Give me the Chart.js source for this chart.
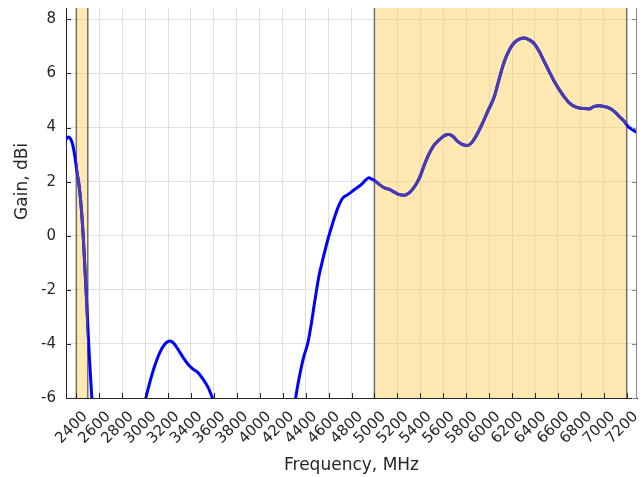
<!DOCTYPE html>
<html>
<head>
<meta charset="utf-8">
<script src="https://cdn.jsdelivr.net/npm/chart.js@4/dist/chart.umd.min.js"></script>
<style>
html,body{margin:0;padding:0;background:#ffffff;}
#wrap{width:644px;height:477px;}
</style>
</head>
<body>
<div id="wrap"><canvas id="c" width="644" height="477"></canvas></div>
<script>
// ---- data ----
const seg1Freq = [2300, 2320, 2335, 2350, 2365, 2387, 2407, 2425, 2442, 2460, 2477, 2489, 2503, 2515, 2527, 2535, 2545];
const seg1Gain = [3.50, 3.62, 3.65, 3.58, 3.42, 2.94, 2.32, 1.83, 1.09, 0.00, -1.37, -2.35, -3.58, -4.56, -5.42, -5.98, -6.60];

const seg2Freq = [2985, 3006, 3041, 3084, 3128, 3171, 3215, 3244, 3287, 3331, 3374, 3418, 3461, 3505, 3549, 3587, 3600];
const seg2Gain = [-6.40, -6.00, -5.42, -4.81, -4.32, -4.01, -3.89, -3.95, -4.20, -4.50, -4.75, -4.93, -5.06, -5.30, -5.61, -6.00, -6.15];

const seg3Freq = [4300, 4313, 4347, 4382, 4420, 4449, 4478, 4516, 4550, 4594,
                  4637, 4681, 4725, 4768, 4827, 4885, 4929, 4951, 4975, 5001,
                  5044, 5088, 5131, 5175, 5218, 5262, 5306, 5349, 5393, 5436,
                  5480, 5523, 5567, 5610, 5645, 5683, 5726, 5770, 5813, 5857,
                  5901, 5944, 5988, 6046, 6090, 6133, 6177, 6220, 6264, 6307,
                  6351, 6394, 6438, 6481, 6525, 6569, 6612, 6656, 6699, 6743,
                  6787, 6830, 6874, 6917, 6961, 7004, 7048, 7091, 7135, 7178,
                  7216, 7251, 7294];
const seg3Gain = [-6.45, -6.00, -5.18, -4.50, -3.95, -3.27, -2.47, -1.49, -0.87, -0.14,
                  0.48, 1.03, 1.40, 1.52, 1.71, 1.89, 2.08, 2.14, 2.10, 2.04,
                  1.89, 1.77, 1.71, 1.61, 1.52, 1.50, 1.59, 1.81, 2.14, 2.63,
                  3.06, 3.37, 3.55, 3.70, 3.74, 3.68, 3.49, 3.37, 3.34, 3.49,
                  3.80, 4.17, 4.60, 5.15, 5.83, 6.44, 6.87, 7.14, 7.27, 7.31,
                  7.24, 7.10, 6.81, 6.44, 6.07, 5.70, 5.40, 5.13, 4.91, 4.78,
                  4.72, 4.70, 4.69, 4.78, 4.81, 4.78, 4.72, 4.60, 4.41, 4.23,
                  4.02, 3.92, 3.80];

const bandStart = [2400, 5000];
const bandEnd   = [2500, 7200];

const xTickValues = [2400, 2600, 2800, 3000, 3200, 3400, 3600, 3800, 4000, 4200, 4400, 4600,
                     4800, 5000, 5200, 5400, 5600, 5800, 6000, 6200, 6400, 6600, 6800, 7000, 7200];
const yTickValues = [-6, -4, -2, 0, 2, 4, 6, 8];

const xTitle = 'Frequency, MHz';
const yTitle = 'Gain, dBi';

// ---- build points, with gaps between segments ----
function seg(f, g) { return f.map((v, i) => ({x: v, y: g[i]})); }
const points = [].concat(
  seg(seg1Freq, seg1Gain), [{x: 2700, y: null}],
  seg(seg2Freq, seg2Gain), [{x: 3900, y: null}],
  seg(seg3Freq, seg3Gain)
);

const TEXT = '#262626';
const FONT = '"DejaVu Sans", "Liberation Sans", sans-serif';

const bandPlugin = {
  id: 'bands',
  beforeDatasetsDraw(chart) {
    const {ctx, chartArea: a, scales: {x}} = chart;
    ctx.save();
    ctx.fillStyle = 'rgba(255,204,84,0.45)';
    bandStart.forEach((s, i) => {
      const x0 = x.getPixelForValue(s), x1 = x.getPixelForValue(bandEnd[i]);
      ctx.fillRect(x0, a.top, x1 - x0, a.bottom - a.top);
    });
    ctx.strokeStyle = '#6f6f6f';
    ctx.lineWidth = 1.5;
    bandStart.forEach((s, i) => {
      [s, bandEnd[i]].forEach(v => {
        const px = x.getPixelForValue(v);
        ctx.beginPath(); ctx.moveTo(px, a.top); ctx.lineTo(px, a.bottom); ctx.stroke();
      });
    });
    ctx.restore();
  },
  beforeDatasetDraw(chart, args) {
    if (args.index !== 1) return;
    const {ctx, chartArea: a, scales: {x}} = chart;
    ctx.save();
    ctx.beginPath();
    bandStart.forEach((s, i) => {
      const x0 = x.getPixelForValue(s), x1 = x.getPixelForValue(bandEnd[i]);
      ctx.rect(x0, a.top - 10, x1 - x0, a.bottom - a.top + 20);
    });
    ctx.clip();
  },
  afterDatasetDraw(chart, args) {
    if (args.index !== 1) return;
    chart.ctx.restore();
  },
  afterDraw(chart) {
    const {ctx, chartArea: a, scales: {x, y}} = chart;
    ctx.save();
    ctx.lineWidth = 1;
    ctx.strokeStyle = '#8a8a8a';
    ctx.beginPath(); ctx.moveTo(a.right - 0.5, a.top); ctx.lineTo(a.right - 0.5, a.bottom); ctx.stroke();
    yTickValues.forEach(v => {
      const py = Math.round(y.getPixelForValue(v)) + 0.5;
      ctx.strokeStyle = TEXT;
      ctx.beginPath(); ctx.moveTo(a.left, py); ctx.lineTo(a.left + 5, py); ctx.stroke();
      ctx.strokeStyle = '#8a8a8a';
      ctx.beginPath(); ctx.moveTo(a.right, py); ctx.lineTo(a.right - 5, py); ctx.stroke();
    });
    ctx.strokeStyle = TEXT;
    xTickValues.forEach(v => {
      const px = Math.round(x.getPixelForValue(v)) + 0.5;
      ctx.beginPath(); ctx.moveTo(px, a.bottom); ctx.lineTo(px, a.bottom - 5); ctx.stroke();
    });
    ctx.restore();
  }
};

new Chart(document.getElementById('c'), {
  type: 'line',
  data: {
    datasets: [
      {
        data: points,
        order: 2,
        borderColor: '#0000ff',
        borderWidth: 3,
        pointRadius: 0,
        cubicInterpolationMode: 'monotone',
        spanGaps: false,
        fill: false
      },
      {
        data: points,
        order: 1,
        borderColor: '#4b3cae',
        borderWidth: 3,
        pointRadius: 0,
        cubicInterpolationMode: 'monotone',
        spanGaps: false,
        fill: false
      }
    ]
  },
  options: {
    responsive: false,
    devicePixelRatio: 1,
    animation: false,
    layout: {padding: {top: 8, right: 7, bottom: 0, left: 0}},
    plugins: {legend: {display: false}, tooltip: {enabled: false}, title: {display: false}},
    scales: {
      x: {
        type: 'linear',
        min: 2310,
        max: 7290,
        afterBuildTicks: s => { s.ticks = xTickValues.map(v => ({value: v})); },
        afterFit: s => { s.height = 79; s.paddingLeft = 0; s.paddingRight = 0; s.paddingTop = 0; s.paddingBottom = 0; },
        grid: {color: '#e0e0e0', drawTicks: false, lineWidth: 1},
        border: {display: true, color: TEXT, width: 1},
        ticks: {
          autoSkip: false, minRotation: 45, maxRotation: 45, padding: 10, labelOffset: 9,
          color: TEXT, font: {family: FONT, size: 15},
          callback: v => String(v)
        },
        title: {display: true, text: xTitle, color: TEXT, font: {family: FONT, size: 17}, padding: {top: 0, bottom: 1}}
      },
      y: {
        type: 'linear',
        min: -6,
        max: 8.42,
        afterBuildTicks: s => { s.ticks = yTickValues.map(v => ({value: v})); },
        afterFit: s => { s.width = 66; s.paddingLeft = 0; s.paddingRight = 0; s.paddingTop = 0; s.paddingBottom = 0; },
        grid: {color: '#e0e0e0', drawTicks: false, lineWidth: 1},
        border: {display: true, color: TEXT, width: 1},
        ticks: {padding: 10, color: TEXT, font: {family: FONT, size: 15}, callback: v => String(v)},
        title: {display: true, text: '        ' + yTitle, color: TEXT, font: {family: FONT, size: 17}, padding: {top: 12, bottom: 0}}
      }
    }
  },
  plugins: [bandPlugin]
});
</script>
</body>
</html>
